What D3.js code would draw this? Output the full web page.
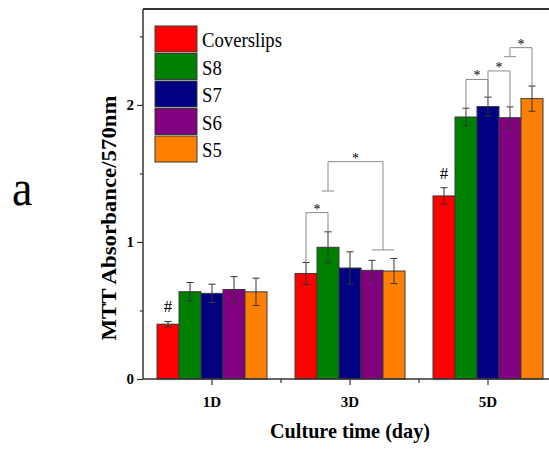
<!DOCTYPE html>
<html>
<head>
<meta charset="utf-8">
<script src="https://cdn.jsdelivr.net/npm/d3@7"></script>
<style>
  html, body { margin: 0; padding: 0; background: #fff; }
  svg { display: block; }
</style>
</head>
<body>
<svg id="chart" width="549" height="450"></svg>
<script>
// Culture days and sample groups
const days = ["1D", "3D", "5D"];
const series = ["Coverslips", "S8", "S7", "S6", "S5"];
const colors = ["#ff0000", "#008000", "#000080", "#800080", "#ff8000"];

// Mean MTT absorbance per group, one value per day
const coverslips = [0.40, 0.77, 1.336];
const s8 = [0.637, 0.961, 1.912];
const s7 = [0.625, 0.81, 1.988];
const s6 = [0.653, 0.793, 1.907];
const s5 = [0.636, 0.788, 2.046];

// Standard deviations
const coverslipsErr = [0.02, 0.08, 0.06];
const s8Err = [0.067, 0.113, 0.064];
const s7Err = [0.067, 0.118, 0.069];
const s6Err = [0.094, 0.073, 0.079];
const s5Err = [0.1, 0.092, 0.092];

const yTicks = [0, 1, 2];
const yMinorTicks = [0.5, 1.5, 2.5];

// Significance brackets (heights in absorbance units)
const sigBrackets = [
  { day: "3D", left: ["Coverslips"], right: ["S8"], top: 1.214 },
  { day: "3D", left: ["S8"], right: ["S6", "S5"], top: 1.586, leftFoot: 1.372, rightFoot: 0.942 },
  { day: "5D", left: ["S8"], right: ["S7"], top: 2.186 },
  { day: "5D", left: ["S7"], right: ["S6"], top: 2.248 },
  { day: "5D", left: ["S6"], right: ["S5"], top: 2.418, leftFoot: 2.352 }
];
// Groups marked with '#'
const hashMarks = [
  { day: "1D", series: "Coverslips" },
  { day: "5D", series: "Coverslips" }
];

const SERIF = "'Liberation Serif', 'Times New Roman', serif";

const means = [coverslips, s8, s7, s6, s5];
const errs = [coverslipsErr, s8Err, s7Err, s6Err, s5Err];
const rows = [];
series.forEach((s, i) => days.forEach((d, j) => {
  rows.push({ series: s, day: d, value: means[i][j], err: errs[i][j], color: colors[i] });
}));
const lookup = (d, s) => rows.find(r => r.day === d && r.series === s);

const svg = d3.select("#chart");
const plot = { left: 143, right: 557, top: 9, bottom: 379 };

const x0 = d3.scaleBand().domain(days).range([plot.left, plot.right])
  .paddingInner(0.2029).paddingOuter(0.1015);
const x1 = d3.scaleBand().domain(series).range([0, x0.bandwidth()]).padding(0);
const y = d3.scaleLinear().domain([0, 2.7]).range([plot.bottom, plot.top]);
const cx = (d, s) => x0(d) + x1(s) + x1.bandwidth() / 2;

// Bars
svg.append("g").selectAll("rect").data(rows).join("rect")
  .attr("x", d => x0(d.day) + x1(d.series))
  .attr("y", d => y(d.value))
  .attr("width", x1.bandwidth())
  .attr("height", d => y(0) - y(d.value))
  .attr("fill", d => d.color)
  .attr("stroke", "#3a3a3a")
  .attr("stroke-width", 1);

// Error bars
const eb = svg.append("g").attr("stroke", "#333").attr("stroke-width", 1);
rows.forEach(r => {
  const xc = cx(r.day, r.series);
  eb.append("line").attr("x1", xc).attr("x2", xc).attr("y1", y(r.value + r.err)).attr("y2", y(r.value - r.err));
  [r.value + r.err, r.value - r.err].forEach(v => {
    eb.append("line").attr("x1", xc - 3.5).attr("x2", xc + 3.5).attr("y1", y(v)).attr("y2", y(v));
  });
});

// Significance brackets
const br = svg.append("g").attr("stroke", "#8a8a8a").attr("stroke-width", 1).attr("fill", "none");
sigBrackets.forEach(b => {
  const legs = [[b.left, b.leftFoot], [b.right, b.rightFoot]].map(([grp, foot]) => {
    const xs = grp.map(s => cx(b.day, s));
    const xm = d3.mean(xs);
    let yEnd;
    if (foot !== undefined) {
      yEnd = y(foot);
      const lo = xs.length > 1 ? d3.min(xs) : xm - 6;
      const hi = xs.length > 1 ? d3.max(xs) : xm + 6;
      br.append("line").attr("x1", lo).attr("x2", hi).attr("y1", yEnd).attr("y2", yEnd);
    } else {
      const r = lookup(b.day, grp[0]);
      yEnd = y(r.value + r.err);
    }
    br.append("line").attr("x1", xm).attr("x2", xm).attr("y1", y(b.top)).attr("y2", yEnd);
    return xm;
  });
  br.append("line").attr("x1", legs[0]).attr("x2", legs[1]).attr("y1", y(b.top)).attr("y2", y(b.top));
  svg.append("text").attr("x", (legs[0] + legs[1]) / 2).attr("y", y(b.top) + 1)
    .attr("text-anchor", "middle").attr("font-size", 14).attr("fill", "#000")
    .style("font-family", SERIF).text("*");
});

// '#' markers
hashMarks.forEach(h => {
  const r = lookup(h.day, h.series);
  svg.append("text").attr("x", cx(h.day, h.series)).attr("y", y(r.value + r.err) - 9)
    .attr("text-anchor", "middle").attr("font-size", 17).attr("fill", "#000")
    .style("font-family", SERIF).text("#");
});

// Frame and axes
svg.append("line").attr("x1", plot.left).attr("x2", 549).attr("y1", plot.top).attr("y2", plot.top)
  .attr("stroke", "#333").attr("stroke-width", 2);

const yAxis = svg.append("g").attr("transform", `translate(${plot.left},0)`)
  .call(d3.axisLeft(y).tickValues(yTicks).tickSize(6).tickPadding(3).tickFormat(d3.format("d")));
svg.append("g").attr("transform", `translate(${plot.left},0)`)
  .call(d3.axisLeft(y).tickValues(yMinorTicks).tickSize(3).tickFormat(""))
  .call(g => g.select(".domain").remove());
yAxis.select(".domain").attr("d", `M0,${plot.top}V${plot.bottom}`);

const xAxis = svg.append("g").attr("transform", `translate(0,${plot.bottom})`)
  .call(d3.axisBottom(x0).tickSize(6).tickPadding(11));
xAxis.select(".domain").attr("d", `M${plot.left},0H549`);
// boundary ticks between day groups
svg.append("g").attr("stroke", "#333").attr("stroke-width", 1.2)
  .selectAll("line").data(days.slice(1)).join("line")
  .attr("x1", d => x0(d) - x0.step() * x0.paddingInner() / 2)
  .attr("x2", d => x0(d) - x0.step() * x0.paddingInner() / 2)
  .attr("y1", plot.bottom).attr("y2", plot.bottom + 4);

svg.selectAll(".domain").attr("stroke", "#333").attr("stroke-width", 1.5);
svg.selectAll(".tick line").attr("stroke", "#333").attr("stroke-width", 1.2);
svg.selectAll(".tick text").style("font-family", SERIF)
  .attr("font-weight", "bold").attr("font-size", 15).attr("fill", "#000");

// Axis titles
svg.append("text").attr("x", x0("3D") + x0.bandwidth() / 2).attr("y", 438)
  .attr("text-anchor", "middle").attr("font-weight", "bold").attr("font-size", 22)
  .attr("textLength", 160).attr("lengthAdjust", "spacingAndGlyphs")
  .style("font-family", SERIF).text("Culture time (day)");
svg.append("text").attr("transform", "translate(116,218) rotate(-90)")
  .attr("text-anchor", "middle").attr("font-weight", "bold").attr("font-size", 22)
  .attr("textLength", 245).attr("lengthAdjust", "spacingAndGlyphs")
  .style("font-family", SERIF).text("MTT Absorbance/570nm");

// Panel letter
svg.append("text").attr("x", 0).attr("y", 0).attr("font-size", 50)
  .attr("transform", "translate(12,205) scale(0.92,1)")
  .style("font-family", SERIF).text("a");

// Legend
const legend = svg.append("g");
series.forEach((s, i) => {
  const g = legend.append("g").attr("transform", `translate(155,${26 + i * 27.5})`);
  g.append("rect").attr("width", 42).attr("height", 26).attr("fill", colors[i])
    .attr("stroke", "#3a3a3a").attr("stroke-width", 1);
  g.append("text").attr("x", 0).attr("y", 0).attr("font-size", 22)
    .attr("transform", "translate(47,21) scale(0.85,1)")
    .style("font-family", SERIF).text(s);
});
</script>
</body>
</html>
